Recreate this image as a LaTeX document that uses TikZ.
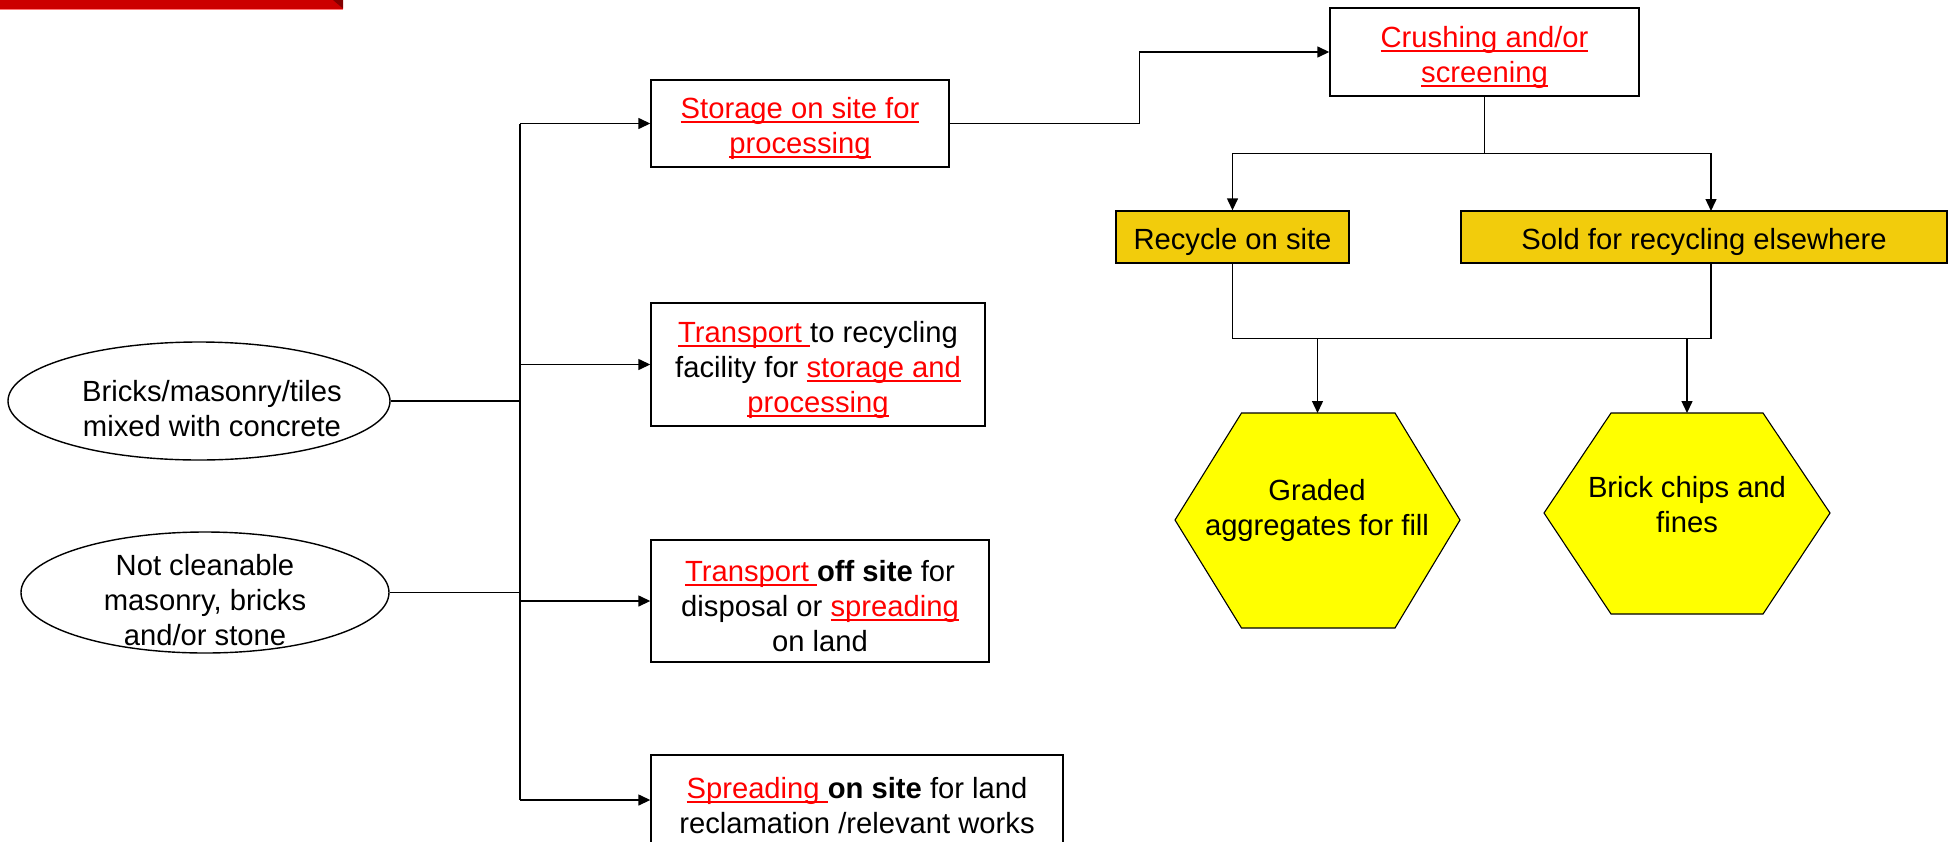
\documentclass[tikz,border=0pt]{standalone}
\usepackage{fontspec}
\setmainfont{Liberation Sans}
\usetikzlibrary{arrows.meta,shapes.geometric}
\definecolor{barred}{RGB}{204,0,0}
\definecolor{bardark}{RGB}{130,0,0}
\definecolor{barpink}{RGB}{255,120,120}
\definecolor{gold}{RGB}{242,204,12}
\definecolor{hexyellow}{RGB}{255,255,0}
\newcommand\redu[1]{{\color{red}\setbox0\hbox{#1}\rlap{\rule[-4.2pt]{\wd0}{2pt}}\box0}}
\newcommand\tstrut{\rule{0pt}{32pt}}
\begin{document}
\begin{tikzpicture}[x=1pt,y=-1pt,
  txt/.style={font=\fontsize{29.2}{35}\selectfont, align=center, inner sep=0pt},
  box/.style={draw, line width=1.4pt, txt, rectangle},
  goldbox/.style={box, fill=gold},
  oval/.style={draw, line width=1.4pt, ellipse, inner sep=0pt},
  conn/.style={line width=1.4pt},
  arr/.style={conn, -{Triangle[length=12pt,width=11pt]}},
  hex/.style={draw, line width=1.1pt, fill=hexyellow, line join=miter}]
\useasboundingbox (0,0) rectangle (1954,841);
% red bar
\fill[barred] (0,0) rectangle (343,8.5);
\fill[bardark] (333,0) -- (343,0) -- (343,8.5) -- cycle;
\fill[barpink] (0,8.5) rectangle (343,10);
% ellipses
\node[oval, minimum width=382pt, minimum height=118pt] (e1) at (199,401) {};
\node[txt] (e1t) at (212,409) {Bricks/masonry/tiles\\mixed with concrete};
\node[oval, minimum width=368pt, minimum height=121pt] (e2) at (205,592.5) {};
\node[txt] (e2t) at (205,600.5) {Not cleanable\\masonry, bricks\\and/or stone};
% boxes
\node[box, minimum width=298pt, minimum height=87pt] (b1) at (800,123.5) {\tstrut\redu{Storage on site for}\\\redu{processing}};
\node[box, minimum width=334pt, minimum height=123pt] (b2) at (818,364.5) {\tstrut\redu{Transport }to recycling\\facility for \redu{storage and}\\\redu{processing}};
\node[box, minimum width=338pt, minimum height=122pt] (b3) at (820,601) {\tstrut\redu{Transport }\textbf{off site} for\\disposal or \redu{spreading}\\on land};
\node[box, minimum width=412pt, minimum height=90pt] (b4) at (857,800) {\tstrut\redu{Spreading }\textbf{on site} for land\\reclamation /relevant works};
\node[box, minimum width=309pt, minimum height=88pt] (cr) at (1484.5,52) {\tstrut\redu{Crushing and/or}\\\redu{screening}};
\node[goldbox, minimum width=233pt, minimum height=52pt] (rec) at (1232.5,237) {\tstrut Recycle on site};
\node[goldbox, minimum width=486pt, minimum height=52pt] (sold) at (1704,237) {\tstrut Sold for recycling elsewhere};
% hexagons
\draw[hex] (1175,520) -- (1241.5,413) -- (1395,413) -- (1460,520) -- (1395,628) -- (1241.5,628) -- cycle;
\node[txt] (h1) at (1317,510.5) {Graded\\aggregates for fill};
\draw[hex] (1544,513) -- (1611,413) -- (1763,413) -- (1830,513) -- (1763,614) -- (1611,614) -- cycle;
\node[txt] (h2) at (1687,504.5) {Brick chips and\\fines};
% connectors left
\coordinate (tt) at (520,123.5);
\coordinate (tb) at (520,800);
\draw[conn] (tt) -- (tb);
\draw[conn] (e1.east) -- (e1.east -| tt);
\draw[conn] (e2.east) -- (e2.east -| tt);
\draw[arr] (tt) -- (b1.west);
\draw[arr] (b2.west -| tt) -- (b2.west);
\draw[arr] (b3.west -| tt) -- (b3.west);
\draw[arr] (tb) -- (b4.west);
% to crushing
\draw[arr] (b1.east) -- ++(190,0) |- (cr.west);
\draw[conn] (cr.south) -- ++(0,57) coordinate (sp);
\coordinate (soldin) at (1711,211);
\draw[arr] (sp) -| (rec.north);
\draw[arr] (sp) -| (soldin);
% to hexagons
\draw[conn] (rec.south) -- ++(0,75) coordinate (m1);
\coordinate (soldout) at (1711,263);
\draw[conn] (soldout) -- (soldout |- m1) -- (m1);
\coordinate (h1top) at (1317.5,413);
\coordinate (h2top) at (1687,413);
\draw[arr] (m1 -| h1top) -- (h1top);
\draw[arr] (m1 -| h2top) -- (h2top);
\end{tikzpicture}
\end{document}
